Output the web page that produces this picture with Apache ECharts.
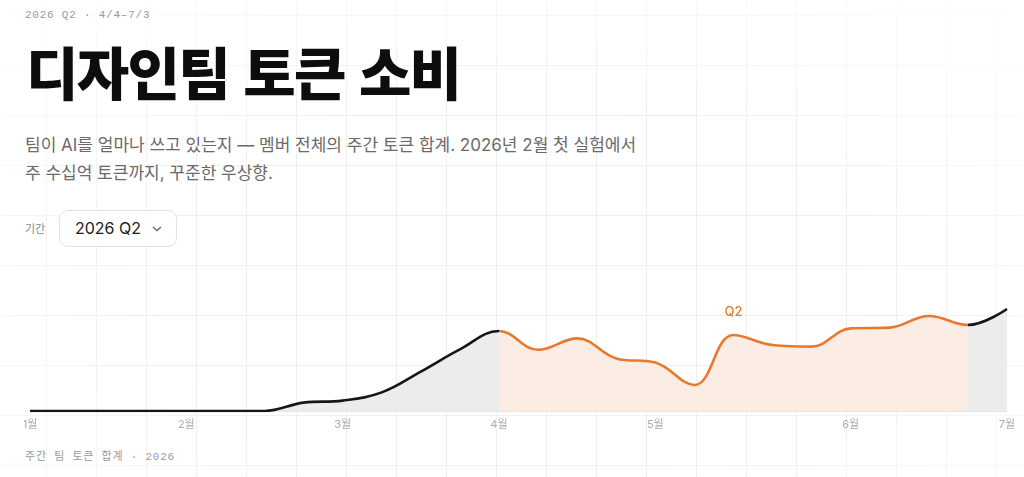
<!DOCTYPE html>
<html lang="ko">
<head>
<meta charset="utf-8">
<title>디자인팀 토큰 소비</title>
<script src="https://cdn.jsdelivr.net/npm/echarts@6/dist/echarts.min.js"></script>
<style>
  html, body { margin: 0; padding: 0; background: #fff; }
  body { width: 1024px; height: 477px; position: relative; overflow: hidden;
         font-family: "Inter", "Noto Sans CJK KR", sans-serif; }
  .bg-grid { position: absolute; inset: 0;
    background-image:
      linear-gradient(to right, #eeeeee 1px, transparent 1px),
      linear-gradient(to bottom, #f0f0f0 1px, transparent 1px);
    background-size: 50px 50px;
    background-position: 46px 15px;
    -webkit-mask-image: radial-gradient(ellipse 75% 85% at 50% 62%, #000 45%, transparent 100%);
    mask-image: radial-gradient(ellipse 75% 85% at 50% 62%, #000 45%, transparent 100%); }
  .mono { font-family: "Liberation Mono", "DejaVu Sans Mono", "Noto Sans CJK KR", monospace;
          font-size: 11px; color: #9a9a9a; letter-spacing: 0.07em; position: absolute; left: 25px; }
  .meta { top: 9px; }
  .caption { top: 447px; }
  h1 { position: absolute; left: 26px; top: 30px; margin: 0;
       font-family: "Noto Sans CJK KR", sans-serif; font-weight: 900; font-size: 57px;
       line-height: 80px; letter-spacing: -0.03em; color: #0d0d0d; }
  .lede { position: absolute; left: 25px; top: 131px; margin: 0; width: 640px;
          font-size: 17px; line-height: 28px; color: #6a6a6a; }
  .period-label { position: absolute; left: 25px; top: 220px; font-size: 11px; color: #8a8a8a; }
  .select { position: absolute; left: 59px; top: 210px; width: 118px; height: 37px; box-sizing: border-box;
            border: 1px solid #e2e2e2; border-radius: 9px; background: #fff;
            font-size: 16px; color: #1c1c1c; line-height: 35px; padding-left: 15px; }
  .select svg { position: absolute; left: 92px; top: 15px; }
  #chart { position: absolute; left: 24px; top: 280px; width: 1000px; height: 150px; }
</style>
</head>
<body>
<div class="bg-grid"></div>
<div class="mono meta">2026 Q2 · 4/4–7/3</div>
<h1>디자인팀 토큰 소비</h1>
<p class="lede">팀이 AI를 얼마나 쓰고 있는지 — 멤버 전체의 주간 토큰 합계. 2026년 2월 첫 실험에서<br>주 수십억 토큰까지, 꾸준한 우상향.</p>
<div class="period-label">기간</div>
<div class="select">2026 Q2<svg width="10" height="6" viewBox="0 0 10 6"><path d="M1 1l4 3.6L9 1" fill="none" stroke="#666" stroke-width="1.3"/></svg></div>
<div id="chart"></div>
<div class="mono caption">주간 팀 토큰 합계 · 2026</div>
<script>
// weekly buckets (week start), 2026
const weeks = ['1/10', '1/17', '1/24', '1/31', '2/7', '2/14', '2/21', '2/28', '3/7', '3/14', '3/21', '3/28',
  '4/4', '4/11', '4/18', '4/25', '5/2', '5/9', '5/16', '5/23', '5/30', '6/6', '6/13', '6/20', '6/27', '7/4'];
// team token total per week, 억 tokens
const tokens = [0, 0, 0, 0, 0, 0, 0, 4.2, 5.2, 9.3, 19.7, 30.8,
  40, 30.6, 36.3, 26.3, 24.2, 13, 38, 33, 32.2, 41.3, 41.7, 47.5, 43, 51];
const quarterStart = 12;   // 4/4
const quarterEnd = 24;     // 6/27
const quarterLabel = 'Q2';

const ORANGE = '#e9782f';
const INK = '#161616';

function monthOf(w) { return w.split('/')[0]; }
function isMonthStart(i) { return i === 0 || monthOf(weeks[i]) !== monthOf(weeks[i - 1]); }

const chart = echarts.init(document.getElementById('chart'), null, {renderer: 'canvas'});
chart.setOption({
  animation: false,
  // keep the plot edges fixed; the first month label may run off the left edge
  grid: {left: 6, right: 17, top: 11, bottom: 19, outerBoundsMode: 'none', containLabel: false},
  xAxis: {
    type: 'category',
    data: weeks,
    boundaryGap: false,
    axisLine: {lineStyle: {color: '#e6e6e6', width: 1}},
    axisTick: {show: false},
    axisLabel: {
      interval: (i) => isMonthStart(i),
      formatter: (w) => monthOf(w) + '월',
      color: '#ababab', fontSize: 11, margin: 8,
      fontFamily: 'Inter, "Noto Sans CJK KR", sans-serif'
    },
    splitLine: {show: false}
  },
  yAxis: {type: 'value', min: 0, max: 60, show: false, splitLine: {show: false}},
  visualMap: [
    {type: 'piecewise', show: false, seriesIndex: 0, dimension: 0,
     pieces: [{gte: quarterStart, lte: quarterEnd, color: '#fcede4'}],
     outOfRange: {color: '#ececec'}},
    {type: 'piecewise', show: false, seriesIndex: 1, dimension: 0,
     pieces: [{gte: quarterStart, lte: quarterEnd, color: ORANGE}],
     outOfRange: {color: INK}}
  ],
  series: [
    {
      type: 'line', data: tokens, smooth: 0.4,
      symbol: 'none', silent: true,
      lineStyle: {width: 0},
      areaStyle: {opacity: 1}
    },
    {
      type: 'line', data: tokens, smooth: 0.4,
      symbol: 'none', silent: true,
      lineStyle: {width: 2.6},
      markArea: {
        silent: true,
        itemStyle: {color: 'rgba(0,0,0,0)'},
        label: {show: true, position: 'insideTop', distance: 15, color: ORANGE,
                fontSize: 13, fontWeight: 500, fontFamily: 'Inter, sans-serif'},
        data: [[{name: quarterLabel, xAxis: weeks[quarterStart]}, {xAxis: weeks[quarterEnd]}]]
      }
    }
  ]
});
</script>
</body>
</html>
